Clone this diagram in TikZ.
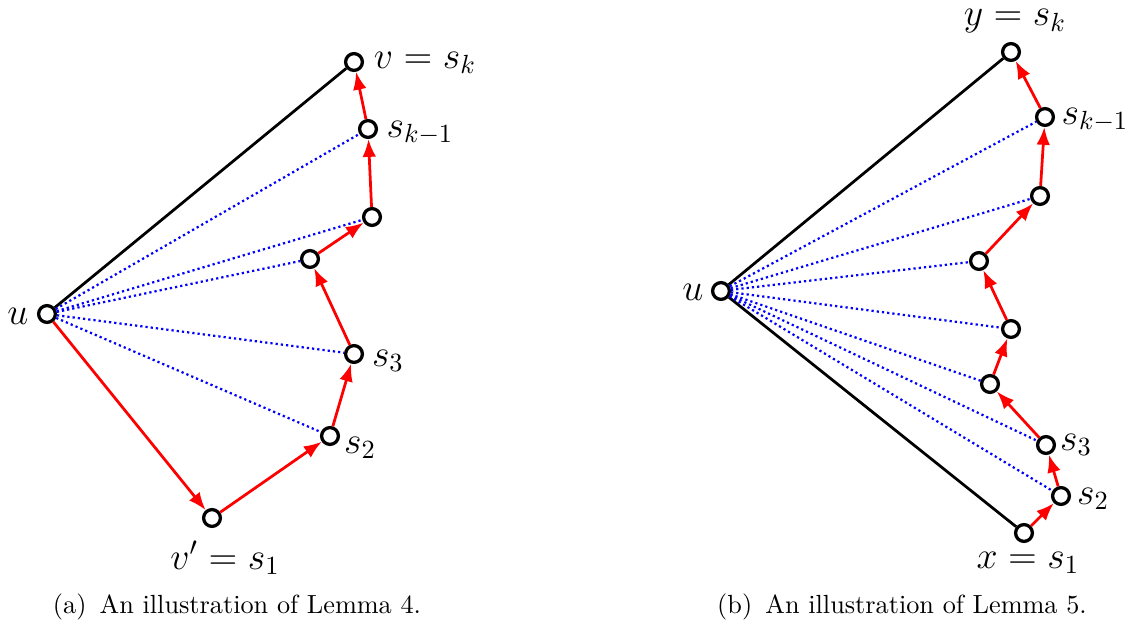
\documentclass[tikz,border=0pt]{standalone}
\usetikzlibrary{arrows.meta}
\begin{document}
\begin{tikzpicture}[x=0.381pt,y=-0.381pt,
  vtx/.style={circle,draw=black,fill=white,line width=1.25pt,minimum size=6.4pt,inner sep=0pt},
  redarr/.style={draw=red,line width=1.05pt,-{Latex[length=6.8pt,width=5.2pt]}},
  blk/.style={draw=black,line width=1.05pt},
  dots/.style={draw=blue,line width=0.85pt,dash pattern=on 0.85pt off 1.15pt},
  lbl/.style={font=\Large,inner sep=0pt},
  captxt/.style={font=\normalsize,inner sep=0pt}]
\useasboundingbox (0,0) rectangle (1134,628);

% ---------- left figure ----------
\node[vtx] (lu) at (47,314) {};
\node[vtx] (lv) at (354,62) {};
\node[vtx] (lk1) at (368,129) {};
\node[vtx] (la) at (372,217) {};
\node[vtx] (lb) at (310,259) {};
\node[vtx] (ls3) at (354,354) {};
\node[vtx] (ls2) at (330,436) {};
\node[vtx] (ls1) at (212,518) {};

\draw[blk] (lu) -- (lv);
\foreach \t in {lk1,la,lb,ls3,ls2} \draw[dots] (lu) -- (\t);
\draw[redarr] (lu) -- (ls1);
\draw[redarr] (ls1) -- (ls2);
\draw[redarr] (ls2) -- (ls3);
\draw[redarr] (ls3) -- (lb);
\draw[redarr] (lb) -- (la);
\draw[redarr] (la) -- (lk1);
\draw[redarr] (lk1) -- (lv);

\node[lbl] (tlu) at (18,316) {$u$};
\node[lbl] (tlv) at (425,63) {$v=s_k$};
\node[lbl] (tlk1) at (420,133) {$s_{k-1}$};
\node[lbl] (tls3) at (388,361) {$s_3$};
\node[lbl] (tls2) at (360,448) {$s_2$};
\node[lbl] (tls1) at (225,558) {$v'=s_1$};

% ---------- right figure ----------
\node[vtx] (ru) at (721,291) {};
\node[vtx] (ry) at (1011,52) {};
\node[vtx] (rk1) at (1045,117) {};
\node[vtx] (ra) at (1040,196) {};
\node[vtx] (rb) at (979,261) {};
\node[vtx] (rc) at (1011,329) {};
\node[vtx] (rd) at (990,384) {};
\node[vtx] (rs3) at (1046,445) {};
\node[vtx] (rs2) at (1061,496) {};
\node[vtx] (rs1) at (1024,533) {};

\draw[blk] (ru) -- (ry);
\draw[blk] (ru) -- (rs1);
\foreach \t in {rk1,ra,rb,rc,rd,rs3,rs2} \draw[dots] (ru) -- (\t);
\draw[redarr] (rs1) -- (rs2);
\draw[redarr] (rs2) -- (rs3);
\draw[redarr] (rs3) -- (rd);
\draw[redarr] (rd) -- (rc);
\draw[redarr] (rc) -- (rb);
\draw[redarr] (rb) -- (ra);
\draw[redarr] (ra) -- (rk1);
\draw[redarr] (rk1) -- (ry);

\node[lbl] (tru) at (693,292) {$u$};
\node[lbl] (try) at (1015,21) {$y=s_k$};
\node[lbl] (trk1) at (1095,120) {$s_{k-1}$};
\node[lbl] (trs3) at (1076,445) {$s_3$};
\node[lbl] (trs2) at (1093,499) {$s_2$};
\node[lbl] (trs1) at (1028,563) {$x=s_1$};

% ---------- captions ----------
\node[captxt] (capa) at (237,607) {(a)\hspace{0.5em}An illustration of Lemma 4.};
\node[captxt] (capb) at (902,607) {(b)\hspace{0.5em}An illustration of Lemma 5.};
\end{tikzpicture}
\end{document}
